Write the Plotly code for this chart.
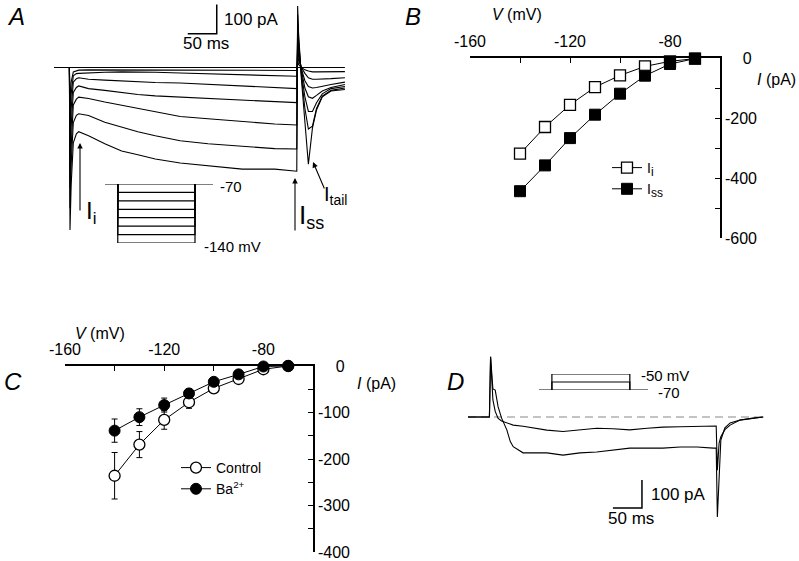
import plotly.graph_objects as go

# ---------------- DATA ----------------
# Panel A: currents (pA) vs time (ms) for steps from -70 mV to the listed potentials
tA = [-27, -1, 0, 2, 5.7, 11, 15, 32, 60, 89, 117, 147, 190, 238, 297, 353, 391,
      392.5, 394, 399, 405, 411, 418, 425, 435, 450, 474]
iA_m70 = [0] * 27
iA_m80 = [0, 0, -130, -50, -15, -10, -9, -8, -8, -8, -8, -8, -9, -9, -10, -10, -10,
          30, 10, 0, -8, -12, -15, -15, -15, -15, -14]
iA_m90 = [0, 0, -200, -90, -28, -21, -20, -18, -16, -15, -15, -16, -19, -22, -24, -27, -30,
          60, 25, 0, -20, -35, -40, -40, -40, -38, -35]
iA_m100 = [0, 0, -270, -140, -50, -38, -35, -40, -43, -46, -49, -51, -53, -58, -63, -68, -72,
           90, 40, -5, -45, -65, -70, -68, -65, -58, -50]
iA_m110 = [0, 0, -340, -200, -85, -68, -63, -72, -78, -86, -92, -97, -101, -106, -112, -116, -120,
           120, 60, -10, -70, -100, -105, -95, -80, -68, -58]
iA_m120 = [0, 0, -410, -270, -128, -108, -101, -106, -118, -129, -141, -152, -167, -175, -184, -193, -196,
           150, 80, -20, -100, -150, -150, -120, -90, -72, -65]
iA_m130 = [0, 0, -480, -330, -188, -163, -158, -164, -187, -204, -219, -233, -250, -260, -270, -277, -278,
           180, 100, -30, -140, -210, -200, -140, -98, -78, -70]
iA_m140 = [0, 0, -555, -400, -257, -226, -219, -233, -260, -285, -298, -312, -326, -336, -347, -347, -354,
           210, 120, -40, -190, -330, -207, -145, -100, -80, -75]
tracesA = [iA_m70, iA_m80, iA_m90, iA_m100, iA_m110, iA_m120, iA_m130, iA_m140]

# Voltage protocols (schematic time, mV)
proto_t = [0, 22, 155, 186]
protoA_hold = -70
protoA_levels = [-80, -90, -100, -110, -120, -130, -140]
protoD_hold = -70
protoD_levels = [-60, -50]

# Panel B: I-V (pA)
V = [-140, -130, -120, -110, -100, -90, -80, -70]
B_Ii = [-319, -230, -156, -97, -58, -28, -11, -2]
B_Ii_err = [15, 6, 5, 4, 3, 2, 2, 1]
B_Iss = [-444, -358, -267, -189, -119, -59, -20, -2]
B_Iss_err = [15, 6, 5, 4, 3, 2, 2, 1]

# Panel C: I-V (pA)
C_ctrl = [-236, -169, -116, -78, -48, -28, -7, 0]
C_ctrl_err = [50, 28, 20, 13, 6, 3, 2, 1]
C_ba = [-139, -110, -84, -59, -34, -18, -1, 0]
C_ba_err = [25, 18, 15, 10, 5, 3, 1, 1]

# Panel D: currents (pA) vs time (ms), steps to -60 and -50 mV
tD = [-38, -1, 1, 5, 9, 14, 20, 29, 35, 40, 57, 98, 126, 155, 184, 212, 241, 271, 298, 328,
      357, 385, 390, 392, 395, 398, 405, 414, 431, 453, 471]
iD_m60 = [0, 0, 215, 61, 20, -5, -14, -20, -25, -29, -33, -47, -52, -46, -40, -42, -46, -40, -36, -35,
          -34, -32, -32, -190, -93, -70, -45, -29, -11, -4, 0]
iD_m50 = [0, 0, 215, 100, 96, 36, -4, -46, -88, -106, -128, -128, -136, -128, -125, -118, -111, -111, -111, -107,
          -107, -111, -111, -357, -190, -82, -39, -21, -11, -4, 0]

scale_ms = 50
scale_pA = 100

# ---------------- LAYOUT HELPERS ----------------
W, H = 799, 561
FONT = "Liberation Sans, Arial, Helvetica, sans-serif"


def xdom(a, b):
    return [a / W, b / W]


def ydom(a, b):
    return [1 - b / H, 1 - a / H]


def px(x):
    return x / W


def py(y):
    return 1 - y / H


def xr(p0, p1, zero_px, ppu):
    return [(p0 - zero_px) / ppu, (p1 - zero_px) / ppu]


def yr(top_px, bot_px, zero_px, ppu):
    return [(zero_px - bot_px) / ppu, (zero_px - top_px) / ppu]


fig = go.Figure()
BLK = "black"

# Panel A traces
for tr in tracesA:
    fig.add_trace(go.Scatter(x=tA, y=tr, mode="lines", line=dict(color=BLK, width=1.1),
                             xaxis="x", yaxis="y", showlegend=False, hoverinfo="skip"))
# Scale bar A
sbA_t, sbA_i = 253, 115
fig.add_trace(go.Scatter(x=[sbA_t - scale_ms, sbA_t, sbA_t], y=[sbA_i, sbA_i, sbA_i + scale_pA],
                         mode="lines", line=dict(color=BLK, width=1.5), xaxis="x", yaxis="y",
                         showlegend=False, hoverinfo="skip"))

# Protocol A
fig.add_trace(go.Scatter(x=[proto_t[0], proto_t[-1]], y=[protoA_hold, protoA_hold], mode="lines",
                         line=dict(color=BLK, width=1.2), xaxis="x2", yaxis="y2", showlegend=False, hoverinfo="skip"))
for v in protoA_levels:
    fig.add_trace(go.Scatter(x=[proto_t[1], proto_t[1], proto_t[2], proto_t[2]],
                             y=[protoA_hold, v, v, protoA_hold], mode="lines",
                             line=dict(color=BLK, width=1.2), xaxis="x2", yaxis="y2",
                             showlegend=False, hoverinfo="skip"))

SUB = "<sub><span style='font-size:12px'>{}</span></sub>"

# Panel B
fig.add_trace(go.Scatter(x=V, y=B_Ii, mode="lines+markers", name="I" + SUB.format("i"),
                         line=dict(color=BLK, width=1),
                         marker=dict(symbol="square", size=11, color="white", line=dict(color=BLK, width=1.3)),
                         error_y=dict(type="data", array=B_Ii_err, color=BLK, thickness=1, width=3),
                         xaxis="x3", yaxis="y3", legend="legend", cliponaxis=False, hoverinfo="skip"))
fig.add_trace(go.Scatter(x=V, y=B_Iss, mode="lines+markers", name="I" + SUB.format("ss"),
                         line=dict(color=BLK, width=1),
                         marker=dict(symbol="square", size=11, color=BLK, line=dict(color=BLK, width=1)),
                         error_y=dict(type="data", array=B_Iss_err, color=BLK, thickness=1, width=3),
                         xaxis="x3", yaxis="y3", legend="legend", cliponaxis=False, hoverinfo="skip"))

# Panel C
fig.add_trace(go.Scatter(x=V, y=C_ctrl, mode="lines+markers", name="Control",
                         line=dict(color=BLK, width=1),
                         marker=dict(symbol="circle", size=11, color="white", line=dict(color=BLK, width=1.3)),
                         error_y=dict(type="data", array=C_ctrl_err, color=BLK, thickness=1, width=3),
                         xaxis="x4", yaxis="y4", legend="legend2", cliponaxis=False, hoverinfo="skip"))
fig.add_trace(go.Scatter(x=V, y=C_ba, mode="lines+markers", name="Ba<sup>2+</sup>",
                         line=dict(color=BLK, width=1),
                         marker=dict(symbol="circle", size=11, color=BLK, line=dict(color=BLK, width=1)),
                         error_y=dict(type="data", array=C_ba_err, color=BLK, thickness=1, width=3),
                         xaxis="x4", yaxis="y4", legend="legend2", cliponaxis=False, hoverinfo="skip"))

# Panel D
fig.add_trace(go.Scatter(x=[tD[0], tD[-1]], y=[0, 0], mode="lines",
                         line=dict(color="#888888", width=1.2, dash="8px,5px"),
                         xaxis="x5", yaxis="y5", showlegend=False, hoverinfo="skip"))
for tr in (iD_m60, iD_m50):
    fig.add_trace(go.Scatter(x=tD, y=tr, mode="lines", line=dict(color=BLK, width=1.1),
                             xaxis="x5", yaxis="y5", showlegend=False, hoverinfo="skip"))
sbD_t, sbD_i = 262, -325
fig.add_trace(go.Scatter(x=[sbD_t - scale_ms, sbD_t, sbD_t], y=[sbD_i, sbD_i, sbD_i + scale_pA],
                         mode="lines", line=dict(color=BLK, width=1.5), xaxis="x5", yaxis="y5",
                         showlegend=False, hoverinfo="skip"))
# Protocol D
fig.add_trace(go.Scatter(x=[proto_t[0], proto_t[-1]], y=[protoD_hold, protoD_hold], mode="lines",
                         line=dict(color=BLK, width=1.2), xaxis="x6", yaxis="y6", showlegend=False, hoverinfo="skip"))
for v in protoD_levels:
    fig.add_trace(go.Scatter(x=[proto_t[1], proto_t[1], proto_t[2], proto_t[2]],
                             y=[protoD_hold, v, v, protoD_hold], mode="lines",
                             line=dict(color=BLK, width=1.2), xaxis="x6", yaxis="y6",
                             showlegend=False, hoverinfo="skip"))

hidden = dict(visible=False, fixedrange=True, automargin=False)


def iv_x(domain, anchor):
    return dict(domain=domain, range=[-160, -60], side="top", anchor=anchor, automargin=False,
                showline=True, linecolor=BLK, linewidth=1.5, ticks="inside", ticklen=5,
                tickwidth=1.2, tickcolor=BLK, tickmode="array", tickvals=[-160, -120, -80],
                ticktext=["-160", "-120", "-80"], ticklabelstandoff=3,
                minor=dict(tickmode="array", tickvals=[-140, -100, -60], ticks="inside", ticklen=5,
                           tickwidth=1.2, tickcolor=BLK),
                showgrid=False, zeroline=False, tickfont=dict(family=FONT, size=16, color=BLK),
                fixedrange=True)


def iv_y(domain, anchor, rng, major, minor):
    txt = ["\u2007\u20070" if v == 0 else str(v) for v in major]
    return dict(domain=domain, range=rng, side="right", anchor=anchor, automargin=False,
                showline=True, linecolor=BLK, linewidth=1.5, ticks="inside", ticklen=5,
                tickwidth=1.2, tickcolor=BLK, tickmode="array", tickvals=major, ticktext=txt,
                ticklabelstandoff=0,
                minor=dict(tickmode="array", tickvals=minor, ticks="inside", ticklen=5,
                           tickwidth=1.2, tickcolor=BLK),
                showgrid=False, zeroline=False, tickfont=dict(family=FONT, size=16, color=BLK),
                fixedrange=True)


layout = dict(
    width=W, height=H, autosize=False, margin=dict(l=0, r=0, t=0, b=0, autoexpand=False),
    paper_bgcolor="white", plot_bgcolor="rgba(0,0,0,0)",
    font=dict(family=FONT, color=BLK),
    xaxis=dict(domain=xdom(40, 360), range=xr(40, 360, 70, 0.58), anchor="y", **hidden),
    yaxis=dict(domain=ydom(0, 260), range=yr(0, 260, 67.5, 0.293), anchor="x", **hidden),
    xaxis2=dict(domain=xdom(105, 213), range=[proto_t[0], proto_t[-1]], anchor="y2", **hidden),
    yaxis2=dict(domain=ydom(184, 243), range=[min(protoA_levels), protoA_hold], anchor="x2", **hidden),
    xaxis3=iv_x(xdom(470, 720), "y3"),
    yaxis3=iv_y(ydom(58, 238), "x3", [-600, 0], [0, -200, -400, -600], [-100, -300, -500]),
    xaxis4=iv_x(xdom(65, 313), "y4"),
    yaxis4=iv_y(ydom(366, 552), "x4", [-400, 0], [0, -100, -200, -300, -400], [-50, -150, -250, -350]),
    xaxis5=dict(domain=xdom(440, 790), range=xr(440, 790, 490, 0.58), anchor="y5", **hidden),
    yaxis5=dict(domain=ydom(340, 545), range=yr(340, 545, 417, 0.28), anchor="x5", **hidden),
    xaxis6=dict(domain=xdom(539, 648), range=[proto_t[0], proto_t[-1]], anchor="y6", **hidden),
    yaxis6=dict(domain=ydom(374, 390), range=[protoD_hold, max(protoD_levels)], anchor="x6", **hidden),
    legend=dict(x=px(607), y=py(152), xanchor="left", yanchor="top", bgcolor="rgba(0,0,0,0)",
                font=dict(family=FONT, size=14, color=BLK), tracegroupgap=0, itemwidth=30),
    legend2=dict(x=px(176), y=py(452), xanchor="left", yanchor="top", bgcolor="rgba(0,0,0,0)",
                 font=dict(family=FONT, size=14, color=BLK), tracegroupgap=0, itemwidth=30),
    showlegend=True,
)
fig.update_layout(**layout)


def txt(x, y, s, size=15, xanchor="left", yanchor="middle"):
    fig.add_annotation(x=px(x), y=py(y), xref="paper", yref="paper", text=s, showarrow=False,
                       xanchor=xanchor, yanchor=yanchor, font=dict(family=FONT, size=size, color=BLK))


def arrow(hx, hy, tx, ty):
    fig.add_annotation(x=px(hx), y=py(hy), xref="paper", yref="paper", text="", showarrow=True,
                       ax=tx - hx, ay=ty - hy, arrowhead=2, arrowsize=1, arrowwidth=1.1, arrowcolor=BLK)


# Panel letters
txt(16, 17, "<i>A</i>", 24, "center")
txt(413, 17, "<i>B</i>", 24, "center")
txt(13, 381, "<i>C</i>", 24, "center")
txt(455, 381, "<i>D</i>", 24, "center")

# Panel A texts
txt(222, 20, "100 pA", 17)
txt(206, 44, "50 ms", 17, "center")
txt(218, 187, "-70", 15)
txt(202, 246, "-140 mV", 15)
arrow(80, 143, 80, 212)
arrow(295, 178, 295, 232)
arrow(313, 162, 325, 190)
txt(84, 213, "I<sub><span style='font-size:17px'>i</span></sub>", 24)
txt(297, 216, "I<sub><span style='font-size:18px'>ss</span></sub>", 26)
txt(322, 195, "I<sub><span style='font-size:14px'>tail</span></sub>", 20)

# Panel B texts
txt(490, 15, "<i>V</i> (mV)", 16)
txt(798, 80, "<i>I</i> (pA)", 16, "right")
# Panel C texts
txt(73, 333, "<i>V</i> (mV)", 16)
txt(355, 383, "<i>I</i> (pA)", 16)

# Panel D texts
txt(639, 375, "-50 mV", 15)
txt(656, 392, "-70", 15)
txt(649, 494, "100 pA", 17)
txt(631, 518, "50 ms", 17, "center")

fig.write_html("out.html", config={"displayModeBar": False},
               post_script="document.body.style.margin='0';document.body.style.overflow='hidden';")
